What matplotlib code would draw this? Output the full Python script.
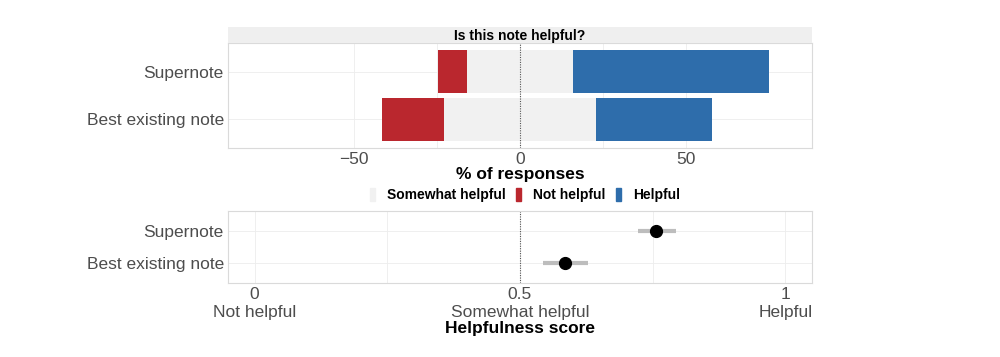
import matplotlib
matplotlib.use("Agg")
import matplotlib.pyplot as plt
from matplotlib.patches import Rectangle

plt.rcParams["font.family"] = ["Liberation Sans", "DejaVu Sans"]

RED, BLUE, LIGHT = "#BA272E", "#2E6DAB", "#F1F1F1"
GRID, BORDER, TXT = "#EDEDED", "#DADADA", "#4D4D4D"

notes = ["Best existing note", "Supernote"]
not_helpful = [18.7, 8.6]
somewhat = [45.9, 32.0]
helpful = [35.0, 59.0]

score = [0.585, 0.756]
score_lo = [0.543, 0.722]
score_hi = [0.628, 0.794]

fig = plt.figure(figsize=(10, 3.57), dpi=100)
ax1 = fig.add_axes([0.228, 0.5854, 0.584, 0.294])
strip = fig.add_axes([0.228, 0.8796, 0.584, 0.0448])
ax2 = fig.add_axes([0.228, 0.2073, 0.584, 0.2017])


def style(ax):
    ax.set_facecolor("white")
    for s in ax.spines.values():
        s.set_color(BORDER)
        s.set_linewidth(0.8)
    ax.tick_params(length=0, labelsize=12.5, labelcolor=TXT, pad=3)
    ax.set_ylim(-0.6, 1.6)
    ax.set_yticks(range(len(notes)))
    ax.set_yticklabels(notes)
    ax.set_axisbelow(True)
    ax.grid(True, which="both", color=GRID, lw=0.6)


# stacked diverging bars, "somewhat" centred on zero
style(ax1)
y = list(range(len(notes)))
left_nh = [-s / 2 - n for s, n in zip(somewhat, not_helpful)]
left_sw = [-s / 2 for s in somewhat]
left_h = [s / 2 for s in somewhat]
ax1.barh(y, not_helpful, left=left_nh, height=0.9, color=RED, zorder=2)
ax1.barh(y, somewhat, left=left_sw, height=0.9, color=LIGHT, zorder=2)
ax1.barh(y, helpful, left=left_h, height=0.9, color=BLUE, zorder=2)
ax1.axvline(0, color="#555555", lw=0.8, ls=(0, (1, 1.2)), zorder=3)
ax1.set_xlim(-88, 88)
ax1.set_xticks([-50, 0, 50])
ax1.set_xticklabels(["\u221250", "0", "50"])
ax1.set_xticks([-25, 25], minor=True)
ax1.tick_params(which="minor", length=0)
ax1.set_xlabel("% of responses", fontsize=12.5, fontweight="bold", labelpad=0)

strip.set_facecolor("#EFEFEF")
strip.set_xticks([]); strip.set_yticks([])
for s in strip.spines.values():
    s.set_visible(False)
strip.text(0.5, 0.45, "Is this note helpful?", ha="center", va="center",
           fontsize=10, fontweight="bold", transform=strip.transAxes)

# legend
handles = [Rectangle((0, 0), 1, 1, color=c) for c in (LIGHT, RED, BLUE)]
fig.legend(handles, ["Somewhat helpful", "Not helpful", "Helpful"], ncol=3,
           loc="center", bbox_to_anchor=(0.525, 0.453), frameon=False,
           handlelength=0.38, handleheight=1.0, handletextpad=0.85,
           columnspacing=0.75, prop={"weight": "bold", "size": 10})

# helpfulness score
style(ax2)
for yi, lo, hi in zip(y, score_lo, score_hi):
    ax2.plot([lo, hi], [yi, yi], color="#BDBDBD", lw=3.0, solid_capstyle="butt", zorder=2)
ax2.plot(score, y, "o", color="black", ms=8.5, zorder=3)
ax2.axvline(0.5, color="#555555", lw=0.8, ls=(0, (1, 1.2)), zorder=1)
ax2.set_xlim(-0.05, 1.05)
ax2.set_xticks([0, 0.5, 1])
ax2.set_xticklabels(["0\nNot helpful", "0.5\nSomewhat helpful", "1\nHelpful"],
                    linespacing=1.25)
ax2.set_xticks([0.25, 0.75], minor=True)
ax2.tick_params(which="minor", length=0)
ax2.set_xlabel("Helpfulness score", fontsize=12.5, fontweight="bold", labelpad=0.5)

fig.savefig("out.png", dpi=100)
